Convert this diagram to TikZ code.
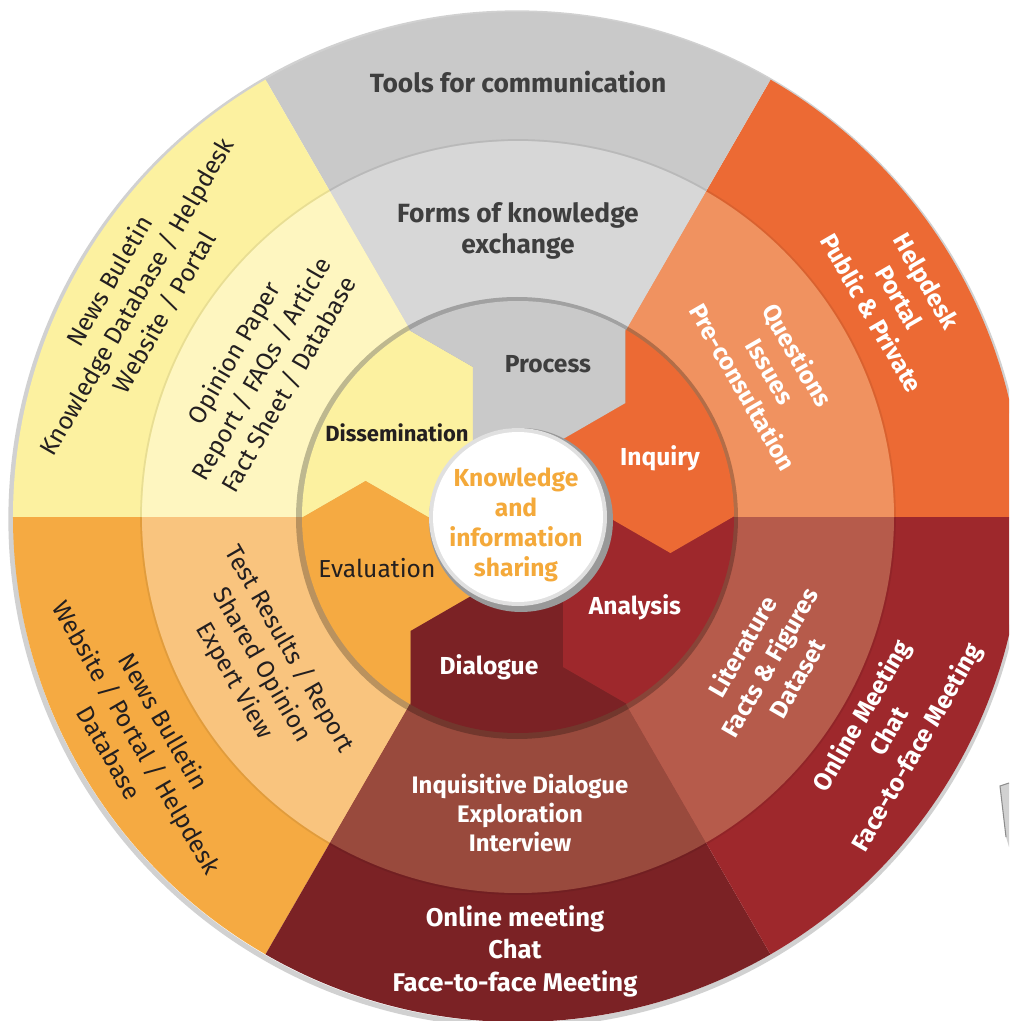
\documentclass[tikz,border=0pt]{standalone}
\usepackage{fontspec}
\setmainfont{Fira Sans}
\usepackage{xcolor}
\usepackage{tikz}
\usetikzlibrary{positioning}

\definecolor{cGray}{RGB}{201,201,201}
\definecolor{cGrayL}{RGB}{215,215,215}
\definecolor{cOrange}{RGB}{236,106,52}
\definecolor{cOrangeL}{RGB}{240,146,96}
\definecolor{cRed}{RGB}{158,40,44}
\definecolor{cRedL}{RGB}{182,91,75}
\definecolor{cWine}{RGB}{123,34,37}
\definecolor{cWineL}{RGB}{153,74,61}
\definecolor{cAmber}{RGB}{245,170,66}
\definecolor{cAmberL}{RGB}{249,196,126}
\definecolor{cYellow}{RGB}{252,241,160}
\definecolor{cYellowL}{RGB}{254,246,192}
\definecolor{cInk}{RGB}{35,31,32}
\definecolor{cSlate}{RGB}{62,62,62}
\definecolor{cCore}{RGB}{244,169,58}

\begin{document}
\begin{tikzpicture}[x=0.02cm, y=0.02cm,
    txt/.style={align=center, inner sep=0pt, font=\fontsize{14}{18}\selectfont},
    btxt/.style={txt, font=\fontsize{14}{18}\selectfont\bfseries},
    bigtxt/.style={txt, font=\fontsize{15}{18}\selectfont\bfseries}]
    \useasboundingbox (-518,-504) rectangle (491,517);
    \fill[white] (-518,-504) rectangle (491,517);
    \clip (-518,-504) rectangle (491,517);

    % soft shadow of the wheel
    \draw[black, opacity=.18, line width=3pt] (-1,-2) circle (506);

    % outer ring: tools for communication
    \foreach \a/\c in {0/cOrange,60/cGray,120/cYellow,180/cAmber,240/cWine,300/cRed}
        \fill[\c] (0,0) -- (\a:505) arc (\a:\a+60:505) -- cycle;

    % middle ring: forms of knowledge exchange
    \foreach \a/\c in {0/cOrangeL,60/cGrayL,120/cYellowL,180/cAmberL,240/cWineL,300/cRedL}
        \fill[\c] (0,0) -- (\a:376) arc (\a:\a+60:376) -- cycle;
    \draw[black, opacity=.08, line width=1pt] (0,0) circle (377);

    % inner disk: process (hexagon pinwheel)
    \fill[black, opacity=.25] (-1,-1) circle (221);
    \begin{scope}
        \clip (0,0) circle (216);
        \foreach \a/\c in {0/cYellow,60/cAmber,120/cWine,180/cRed,240/cOrange,300/cGray}
            \fill[\c, rotate=\a] (-45,60) -- (-45,150) -- (-218.2,250)
                -- (-325.6,-64) -- (-152.4,36) -- (-74.5,-9) -- cycle;
    \end{scope}

    % centre circle
    \fill[black!40] (3,-3) circle (92);
    \fill[black!12] (0,0) circle (89);
    \fill[white] (0,0) circle (85);

    % corner of a neighbouring sheet
    \fill[black!18] (482,-269) -- (491,-266) -- (491,-330) -- (488,-320) -- cycle;
    \draw[black!45, line width=0.6pt] (491,-266) -- (482,-269) -- (488,-320);

    % outer ring labels
    \node[bigtxt, text=cSlate] (tools) at (0,435) {Tools for communication};
    \node[btxt, text=white, rotate=-60] (helpdesk) at (30:440) {Helpdesk\\Portal\\Public \& Private};
    \node[btxt, text=white, rotate=60] (online) at (-30:430) {Online Meeting\\Chat\\Face-to-face Meeting};
    \node[btxt, text=white, font=\fontsize{14.6}{18.5}\selectfont\bfseries] (meeting) at (-3,-434) {Online meeting\\Chat\\Face-to-face Meeting};
    \node[txt, text=cInk, rotate=-60] (bulletin) at (210:440) {News Bulletin\\Website / Portal / Helpdesk\\Database};
    \node[txt, text=cInk, rotate=60] (buletin) at (150:440) {News Buletin\\Knowledge Database / Helpdesk\\Website / Portal};

    % middle ring labels
    \node[bigtxt, text=cSlate] (forms) at (0,286) {Forms of knowledge\\exchange};
    \node[btxt, text=white, rotate=-60] (questions) at (30:292) {Questions\\Issues\\Pre-consultation};
    \node[btxt, text=white, rotate=60] (literature) at (-30:290) {Literature\\Facts \& Figures\\Dataset};
    \node[btxt, text=white, font=\fontsize{13.6}{16.3}\selectfont\bfseries] (inquisitive) at (2,-296) {Inquisitive Dialogue\\Exploration\\Interview};
    \node[txt, text=cInk, rotate=-60] (tests) at (210:296) {Test Results / Report\\Shared Opinion\\Expert View};
    \node[txt, text=cInk, rotate=60] (opinion) at (150:296) {Opinion Paper\\Report / FAQs / Article\\Fact Sheet / Database};

    % inner labels
    \node[btxt, text=cSlate] (process) at (30,153) {Process};
    \node[btxt, text=cInk, font=\fontsize{12.5}{15}\selectfont\bfseries] (dissem) at (-121,84) {Dissemination};
    \node[btxt, text=white] (inquiry) at (142,59) {Inquiry};
    \node[btxt, text=white] (analysis) at (117,-90) {Analysis};
    \node[btxt, text=white] (dialogue) at (-29,-150) {Dialogue};
    \node[txt, text=cInk] (evaluation) at (-141,-51) {Evaluation};
    \node[btxt, text=cCore, font=\fontsize{14}{17}\selectfont\bfseries] (core) at (-2,-8) {Knowledge\\and\\information\\sharing};
\end{tikzpicture}
\end{document}
